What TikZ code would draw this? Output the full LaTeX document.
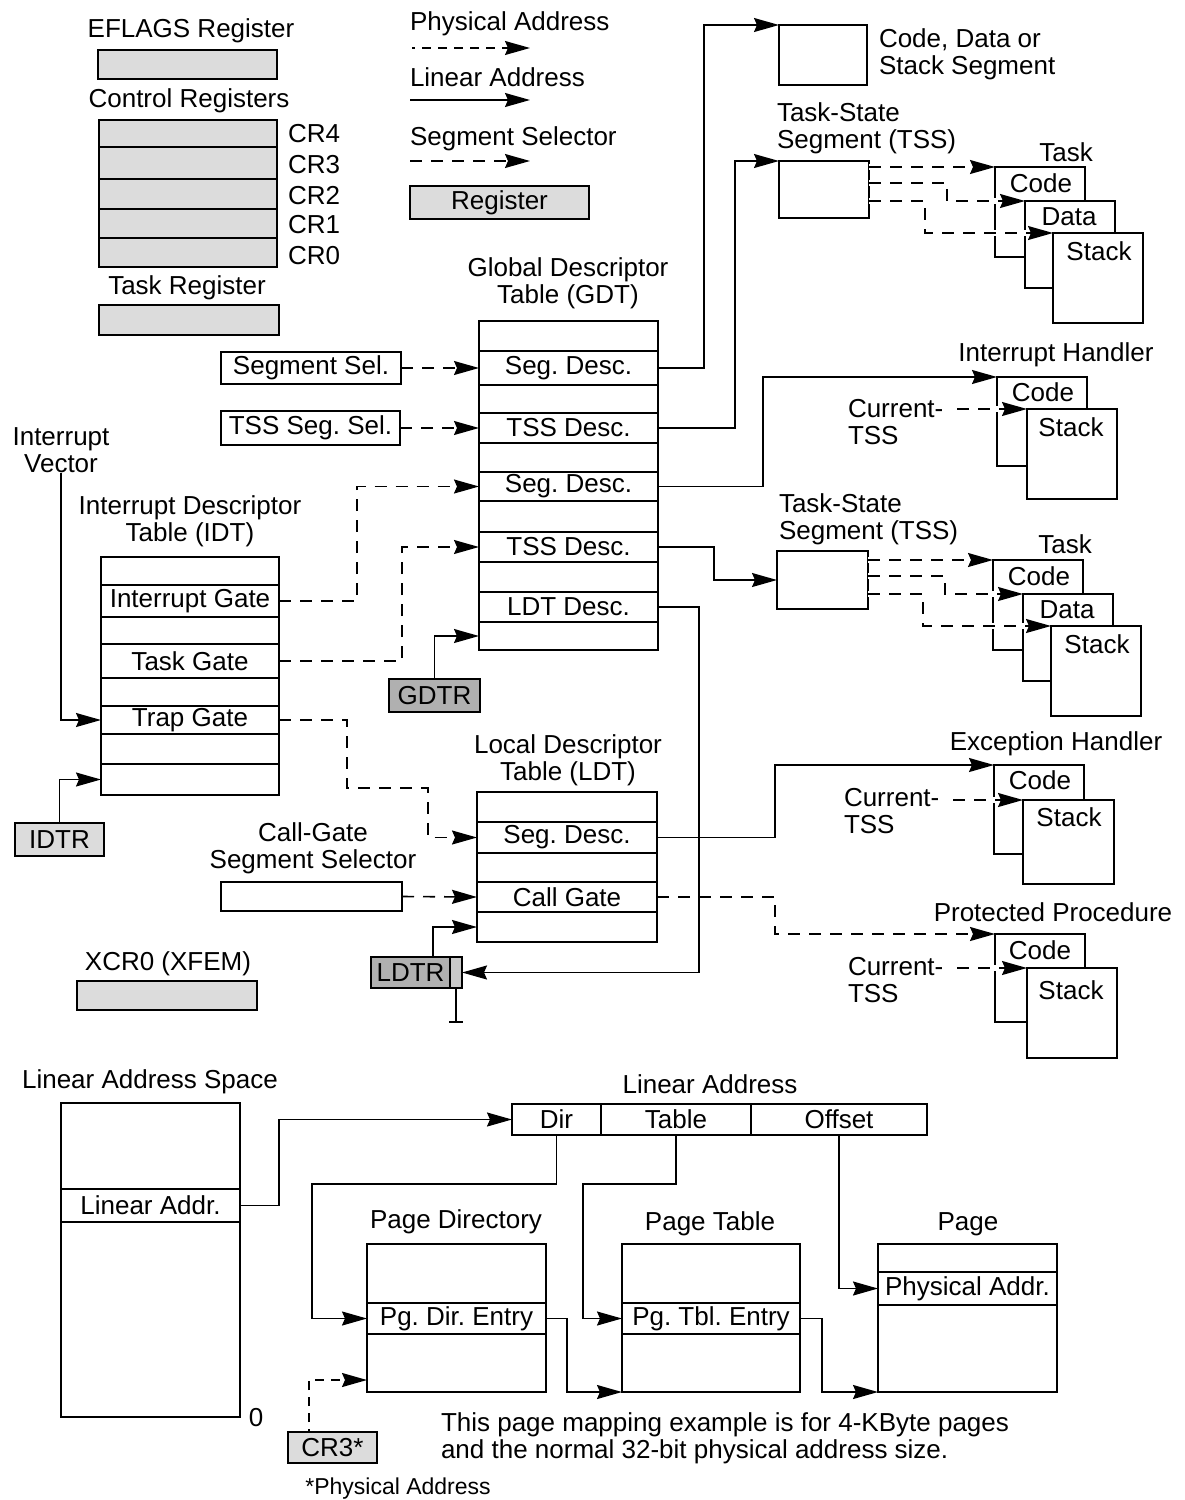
\documentclass[tikz,border=0pt]{standalone}
\usepackage{fontspec}
\setmainfont{Liberation Sans}
\usetikzlibrary{arrows.meta,calc}
\definecolor{regfill}{HTML}{DCDCDC}
\definecolor{ptrfill}{HTML}{B0B0B0}
\definecolor{stripfill}{HTML}{CACACA}
\newcommand\lbl{\fontsize{26}{27}\selectfont\frenchspacing}
\newcommand\smalllbl{\fontsize{23}{25}\selectfont}
% \bx{name}{style}{x1}{y1}{x2}{y2}{text}: box node spanning the given corners
\newcommand\bx[7]{\node[#2, minimum width={(#5)-(#3)}, minimum height={(#6)-(#4)}] (#1) at ({((#3)+(#5))/2},{((#4)+(#6))/2}) {#7};}
\begin{document}
\begin{tikzpicture}[x=1pt,y=-1pt,
  every node/.style={font=\lbl, inner sep=0pt, outer sep=0pt},
  cell/.style={draw, line width=1.6pt, fill=white},
  regbox/.style={cell, fill=regfill},
  ptrbox/.style={cell, fill=ptrfill},
  lin/.style={line width=1.6pt, -{Stealth[length=25pt,width=14pt,inset=3pt]}},
  seg/.style={lin, dash pattern=on 12pt off 9pt},
  phys/.style={lin, dash pattern=on 9pt off 7pt, dash phase=6pt},
  halo/.style={preaction={draw=white, line width=6pt, solid, arrows=-, shorten >=8pt}},
]
\fill[white] (0,0) rectangle (1184,1500);
\useasboundingbox (0,0) rectangle (1184,1500);

% ---------- system registers ----------
\node (eflt) at (191,31) {EFLAGS Register};
\bx{efl}{regbox}{98}{50}{277}{79}{}
\node (crt) at (189,101) {Control Registers};
\bx{cr4}{regbox}{99}{120}{277}{147}{}
\bx{cr3r}{regbox}{99}{147}{277}{179}{}
\bx{cr2}{regbox}{99}{179}{277}{209}{}
\bx{cr1}{regbox}{99}{209}{277}{238}{}
\bx{cr0}{regbox}{99}{238}{277}{267}{}
\node[anchor=west] (cr4l) at (288,134) {CR4};
\node[anchor=west] (cr3l) at (288,165) {CR3};
\node[anchor=west] (cr2l) at (288,196) {CR2};
\node[anchor=west] (cr1l) at (288,225) {CR1};
\node[anchor=west] (cr0l) at (288,256) {CR0};
\node (trt) at (187,288) {Task Register};
\bx{tr}{regbox}{99}{305}{279}{335}{}
\node (xcrt) at (168,964) {XCR0 (XFEM)};
\bx{xcr}{regbox}{77}{981}{257}{1010}{}

% ---------- legend ----------
\node[anchor=west] (lphys) at (410,24) {Physical Address};
\coordinate (lpa) at (412,48); \coordinate (lpb) at (530,48);
\draw[phys] (lpa) -- (lpb);
\node[anchor=west] (llin) at (410,77) {Linear Address};
\coordinate (lla) at (410,100); \coordinate (llb) at (530,100);
\draw[lin] (lla) -- (llb);
\node[anchor=west] (lsel) at (410,139) {Segment Selector};
\coordinate (lsa) at (410,161); \coordinate (lsb) at (530,161);
\draw[seg] (lsa) -- (lsb);
\bx{lreg}{regbox}{410}{186}{589}{219}{Register}

% ---------- GDT ----------
\node[align=center] (gdtt) at (568,283) {Global Descriptor\\Table (GDT)};
\bx{g1}{cell}{479}{321}{658}{351}{}
\bx{g2}{cell}{479}{351}{658}{385}{Seg. Desc.}
\bx{g3}{cell}{479}{385}{658}{413}{}
\bx{g4}{cell}{479}{413}{658}{443}{TSS Desc.}
\bx{g5}{cell}{479}{443}{658}{472}{}
\bx{g6}{cell}{479}{472}{658}{501}{Seg. Desc.}
\bx{g7}{cell}{479}{501}{658}{532}{}
\bx{g8}{cell}{479}{532}{658}{562}{TSS Desc.}
\bx{g9}{cell}{479}{562}{658}{592}{}
\bx{g10}{cell}{479}{592}{658}{622}{LDT Desc.}
\bx{g11}{cell}{479}{622}{658}{650}{}
\bx{ssel}{cell}{221}{352}{401}{384}{Segment Sel.}
\bx{tsel}{cell}{221}{411}{400}{445}{TSS Seg. Sel.}
\bx{gdtr}{ptrbox}{389}{679}{480}{712}{GDTR}

% ---------- IDT ----------
\node[align=center] (ivec) at (61,450) {Interrupt\\Vector};
\node[align=center] (idtt) at (190,521) {Interrupt Descriptor\\Table (IDT)};
\bx{i1}{cell}{101}{557}{279}{585}{}
\bx{i2}{cell}{101}{585}{279}{617}{Interrupt Gate}
\bx{i3}{cell}{101}{617}{279}{644}{}
\bx{i4}{cell}{101}{644}{279}{678}{Task Gate}
\bx{i5}{cell}{101}{678}{279}{706}{}
\bx{i6}{cell}{101}{706}{279}{734}{Trap Gate}
\bx{i7}{cell}{101}{734}{279}{764}{}
\bx{i8}{cell}{101}{764}{279}{795}{}
\bx{idtr}{regbox}{15}{823}{104}{856}{IDTR}

% ---------- LDT ----------
\node[align=center] (ldtt) at (568,760) {Local Descriptor\\Table (LDT)};
\bx{l1}{cell}{477}{792}{657}{822}{}
\bx{l2}{cell}{477}{822}{657}{853}{Seg. Desc.}
\bx{l3}{cell}{477}{853}{657}{882}{}
\bx{l4}{cell}{477}{882}{657}{912}{Call Gate}
\bx{l5}{cell}{477}{912}{657}{942}{}
\node[align=center] (cgst) at (313,848) {Call-Gate\\Segment Selector};
\bx{cgs}{cell}{221}{882}{402}{911}{}
\bx{ldtr}{ptrbox}{371}{957}{450}{988}{LDTR}
\bx{ldtrs}{cell}{450}{957}{462}{988}{}
\path (ldtrs) node[fill=stripfill, minimum width=10, minimum height=29] (ldtrsf) {};
\coordinate (ldtrt) at (456,1022);
\draw[line width=1.4pt] (ldtrs.south) -- (ldtrt);
\draw[line width=1.4pt] ($(ldtrt)+(-7,0)$) -- ($(ldtrt)+(7,0)$);

% ---------- segments ----------
\bx{cds}{cell}{779}{25}{867}{85}{}
\node[anchor=west, align=left] (cdst) at (879,54) {Code, Data or\\Stack Segment};

\node[anchor=west, align=left] (tss1t) at (777,128) {Task-State\\Segment (TSS)};
\bx{tss1}{cell}{779}{161}{869}{218}{}
\node (task1t) at (1066,152) {Task};
\bx{code1}{cell}{995}{167}{1085}{257}{}
\bx{data1}{cell}{1025}{201}{1115}{288}{}
\bx{stack1}{cell}{1053}{233}{1143}{323}{}
\node (code1t) at (1041,183) {Code};
\node (data1t) at (1069,217) {Data};
\node (stack1t) at (1099,251) {Stack};

\node (iht) at (1056,355) {Interrupt Handler};
\bx{ihc}{cell}{997}{377}{1087}{466}{}
\bx{ihs}{cell}{1027}{409}{1117}{499}{}
\node (ihct) at (1043,392) {Code};
\node (ihst) at (1071,427) {Stack};
\node[anchor=west, align=left] (ihcur) at (848,422) {Current-\\TSS};
\coordinate (ihq) at (957,409);

\node[anchor=west, align=left] (tss2t) at (779,519) {Task-State\\Segment (TSS)};
\bx{tss2}{cell}{777}{551}{868}{609}{}
\node (task2t) at (1065,544) {Task};
\bx{code2}{cell}{993}{560}{1083}{650}{}
\bx{data2}{cell}{1023}{594}{1113}{681}{}
\bx{stack2}{cell}{1051}{626}{1141}{716}{}
\node (code2t) at (1039,576) {Code};
\node (data2t) at (1067,610) {Data};
\node (stack2t) at (1097,644) {Stack};

\node (eht) at (1056,744) {Exception Handler};
\bx{ehc}{cell}{994}{765}{1084}{854}{}
\bx{ehs}{cell}{1023}{800}{1114}{884}{}
\node (ehct) at (1040,780) {Code};
\node (ehst) at (1069,817) {Stack};
\node[anchor=west, align=left] (ehcur) at (844,811) {Current-\\TSS};
\coordinate (ehq) at (953,800);

\node (ppt) at (1053,912) {Protected Procedure};
\bx{ppc}{cell}{995}{934}{1085}{1022}{}
\bx{pps}{cell}{1027}{968}{1117}{1058}{}
\node (ppct) at (1040,950) {Code};
\node (ppst) at (1071,990) {Stack};
\node[anchor=west, align=left] (ppcur) at (848,980) {Current-\\TSS};
\coordinate (ppq) at (957,968);

% ---------- connectors: selectors and descriptors ----------
\draw[seg] (ssel.east) -- (g2.west);
\draw[seg] (tsel.east) -- (g4.west);
\draw[seg] (i2.east) -| (357,486.5) -- (g6.west);
\draw[seg] (i4.east) -| (402,547) -- (g8.west);
\draw[seg] (i6.east) -| (347,788) -| (428,837.5) -- (l2.west);
\draw[seg] (cgs.east) -- (l4.west);
\draw[lin] (ivec.south) |- (i6.west);
\draw[lin] (idtr.north) |- (i8.west);
\draw[lin] (gdtr.north) |- (g11.west);
\draw[lin] ($(ldtr.north west)+(62,0)$) |- (l5.west);

\draw[lin] (g2.east) -| (704,25) -- (cds.north west);
\draw[lin] (g4.east) -| (735,161) -- (tss1.north west);
\draw[lin] (g6.east) -| (763,377) -- (ihc.north west);
\draw[lin] (g8.east) -| (714,580) -- (tss2.west);
\draw[lin] (g10.east) -| (699,972.5) -- (ldtrs.east);
\draw[lin] (l2.east) -| (775,765) -- (ehc.north west);
\draw[seg] (l4.east) -| (775,934) -- (ppc.north west);

% ---------- connectors: TSS contents ----------
\draw[seg,halo] (tss1.east |- 0,167) -- (code1.north west);
\draw[seg,halo] (tss1.east |- 0,183) -| (947,201) -- (data1.north west);
\draw[seg,halo] (tss1.east |- 0,201) -| (925,233) -- (stack1.north west);
\draw[seg,halo] (tss2.east |- 0,560) -- (code2.north west);
\draw[seg,halo] (tss2.east |- 0,576) -| (945,594) -- (data2.north west);
\draw[seg,halo] (tss2.east |- 0,594) -| (923,626) -- (stack2.north west);
\draw[seg,halo] (ihq) -- (ihs.north west);
\draw[seg,halo] (ehq) -- (ehs.north west);
\draw[seg,halo] (ppq) -- (pps.north west);

% ---------- paging ----------
\node (last) at (150,1082) {Linear Address Space};
\bx{las1}{cell}{61}{1103}{240}{1189}{}
\bx{las2}{cell}{61}{1189}{240}{1222}{Linear Addr.}
\bx{las3}{cell}{61}{1222}{240}{1417}{}
\node (zero) at (256,1418) {0};

\node (lat) at (710,1084) {Linear Address};
\bx{ladir}{cell}{512}{1104}{601}{1135}{Dir}
\bx{latab}{cell}{601}{1104}{751}{1135}{Table}
\bx{laoff}{cell}{751}{1104}{927}{1135}{Offset}

\node (pdt) at (456,1222) {Page Directory};
\bx{pd1}{cell}{367}{1244}{546}{1303}{}
\bx{pd2}{cell}{367}{1303}{546}{1334}{Pg. Dir. Entry}
\bx{pd3}{cell}{367}{1334}{546}{1392}{}
\node (ptt) at (710,1224) {Page Table};
\bx{pt1}{cell}{622}{1244}{800}{1303}{}
\bx{pt2}{cell}{622}{1303}{800}{1334}{Pg. Tbl. Entry}
\bx{pt3}{cell}{622}{1334}{800}{1392}{}
\node (pgt) at (968,1224) {Page};
\bx{pg1}{cell}{878}{1244}{1057}{1272}{}
\bx{pg2}{cell}{878}{1272}{1057}{1305}{Physical Addr.}
\bx{pg3}{cell}{878}{1305}{1057}{1392}{}
\bx{cr3}{regbox}{288}{1432}{377}{1463}{CR3*}
\node (phnote) at (398,1489) {\smalllbl *Physical Address};
\node[anchor=west, align=left] (note) at (441,1438) {This page mapping example is for 4-KByte pages\\and the normal 32-bit physical address size.};

\draw[lin] (las2.east) -| (279,1119.5) -- (ladir.west);
\draw[lin] (ladir.south) |- (312,1184) |- (pd2.west);
\draw[lin] (latab.south) |- (583,1184) |- (pt2.west);
\draw[lin] (laoff.south) |- (pg2.west);
\draw[lin] (pd2.east) -| (567,1392) -- (pt3.south west);
\draw[lin] (pt2.east) -| (822,1392) -- (pg3.south west);
\draw[phys] ($(cr3.north west)+(21,0)$) |- (pd3.west |- 0,1380);
\end{tikzpicture}
\end{document}
